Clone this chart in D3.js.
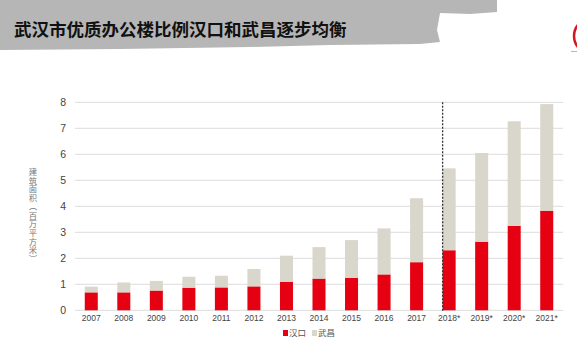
<!DOCTYPE html>
<html><head><meta charset="utf-8">
<script src="https://cdn.jsdelivr.net/npm/d3@7"></script>
<style>
body{margin:0;background:#fff;position:relative;}
svg{display:block;}
#ytitle{position:absolute;left:28px;top:167px;width:10px;font-family:'Noto Sans CJK SC';font-size:8.3px;line-height:8.7px;color:#777;word-break:break-all;text-align:center;}
#ytitle span.r{display:inline-block;transform:rotate(90deg);}
</style>
</head><body>
<script>
const years = ["2007","2008","2009","2010","2011","2012","2013","2014","2015","2016","2017","2018*","2019*","2020*","2021*"];
const hankou = [0.69,0.69,0.76,0.87,0.88,0.92,1.10,1.22,1.25,1.38,1.85,2.31,2.64,3.25,3.83];
const total  = [0.91,1.07,1.13,1.29,1.33,1.59,2.10,2.43,2.70,3.15,4.31,5.46,6.05,7.27,7.93];
const wuchang = total.map((t,i)=>+(t-hankou[i]).toFixed(2));
const yTicks = [0,1,2,3,4,5,6,7,8];
const seriesNames = ["汉口","武昌"];
const colors = ["#e50012","#d9d6cb"];
const title = "武汉市优质办公楼比例汉口和武昌逐步均衡";
const yTitleParts = ["建筑面积","（","百万平方米","）"];

const W=577,H=338;
const svg=d3.select("body").append("svg").attr("width",W).attr("height",H);

// header brush band
svg.append("path").attr("fill","#b6b6b6")
 .attr("d","M0,0 L497,0 L497,12 L470,14 L440,13 L437,30 L440,42 L420,44 L330,45 L250,47 L120,49 L0,50 Z");
svg.append("text").attr("x",14).attr("y",36).attr("font-family","Noto Sans CJK SC").attr("font-weight","bold")
 .attr("font-size",17.5).attr("fill","#111").text(title);
// logo fragment
svg.append("circle").attr("cx",592).attr("cy",36).attr("r",18).attr("fill","none").attr("stroke","#d8141e").attr("stroke-width",2.5);
svg.append("line").attr("x1",571).attr("x2",577).attr("y1",51.5).attr("y2",51.5).attr("stroke","#999").attr("stroke-width",0.7);

const x=d3.scaleBand().domain(years).range([75,563]).paddingInner(0.6).paddingOuter(0.3);
const y=d3.scaleLinear().domain([0,8]).range([310.3,102.3]);

// gridlines
svg.append("g").selectAll("line").data(yTicks).join("line")
 .attr("x1",75).attr("x2",563).attr("y1",d=>y(d)).attr("y2",d=>y(d))
 .attr("stroke","#dcdcdc").attr("stroke-width",1);

// y axis
const ya=svg.append("g").attr("transform","translate(75,0)")
 .call(d3.axisLeft(y).tickValues(yTicks).tickSize(0).tickPadding(9));
ya.select(".domain").remove();
ya.selectAll("text").attr("font-family","Liberation Sans, Arial").attr("font-size",10.5).attr("fill","#444");

// x axis
const xa=svg.append("g").attr("transform","translate(0,311)")
 .call(d3.axisBottom(x).tickSize(0).tickPadding(4));
xa.select(".domain").remove();
xa.selectAll("text").attr("font-family","Liberation Sans, Arial").attr("font-size",8.5).attr("fill","#444");

// stacked bars
const data=years.map((yr,i)=>({yr,h:hankou[i],w:wuchang[i]}));
const stack=d3.stack().keys(["h","w"])(data);
svg.append("g").selectAll("g").data(stack).join("g").attr("fill",(d,i)=>colors[i])
 .selectAll("rect").data(d=>d).join("rect")
 .attr("x",d=>x(d.data.yr)).attr("width",x.bandwidth())
 .attr("y",d=>y(d[1])).attr("height",d=>y(d[0])-y(d[1]));

// dashed divider
const dx=x("2018*");
svg.append("line").attr("x1",dx).attr("x2",dx).attr("y1",y(8)).attr("y2",y(0)+2)
 .attr("stroke","#333").attr("stroke-width",1.3).attr("stroke-dasharray","2,1.5");

// y title: narrow HTML block, wraps one glyph per line
const yt=d3.select("body").append("div").attr("id","ytitle");
const ytNode=yt.node();
yTitleParts.forEach(p=>{
  if(p==="（"||p==="）"){ const s=document.createElement("span"); s.className="r"; s.textContent=p; ytNode.appendChild(s); }
  else ytNode.appendChild(document.createTextNode(p));
});

// legend
const lg=svg.append("g").attr("transform","translate(283,336)");
seriesNames.forEach((n,i)=>{
  const g=lg.append("g").attr("transform",`translate(${i*29},0)`);
  g.append("rect").attr("x",0).attr("y",-6).attr("width",5).attr("height",6).attr("fill",colors[i]);
  g.append("text").attr("x",6).attr("y",0).attr("font-family","Noto Sans CJK SC").attr("font-size",8.5).attr("fill","#555").text(n);
});
</script>
</body></html>
